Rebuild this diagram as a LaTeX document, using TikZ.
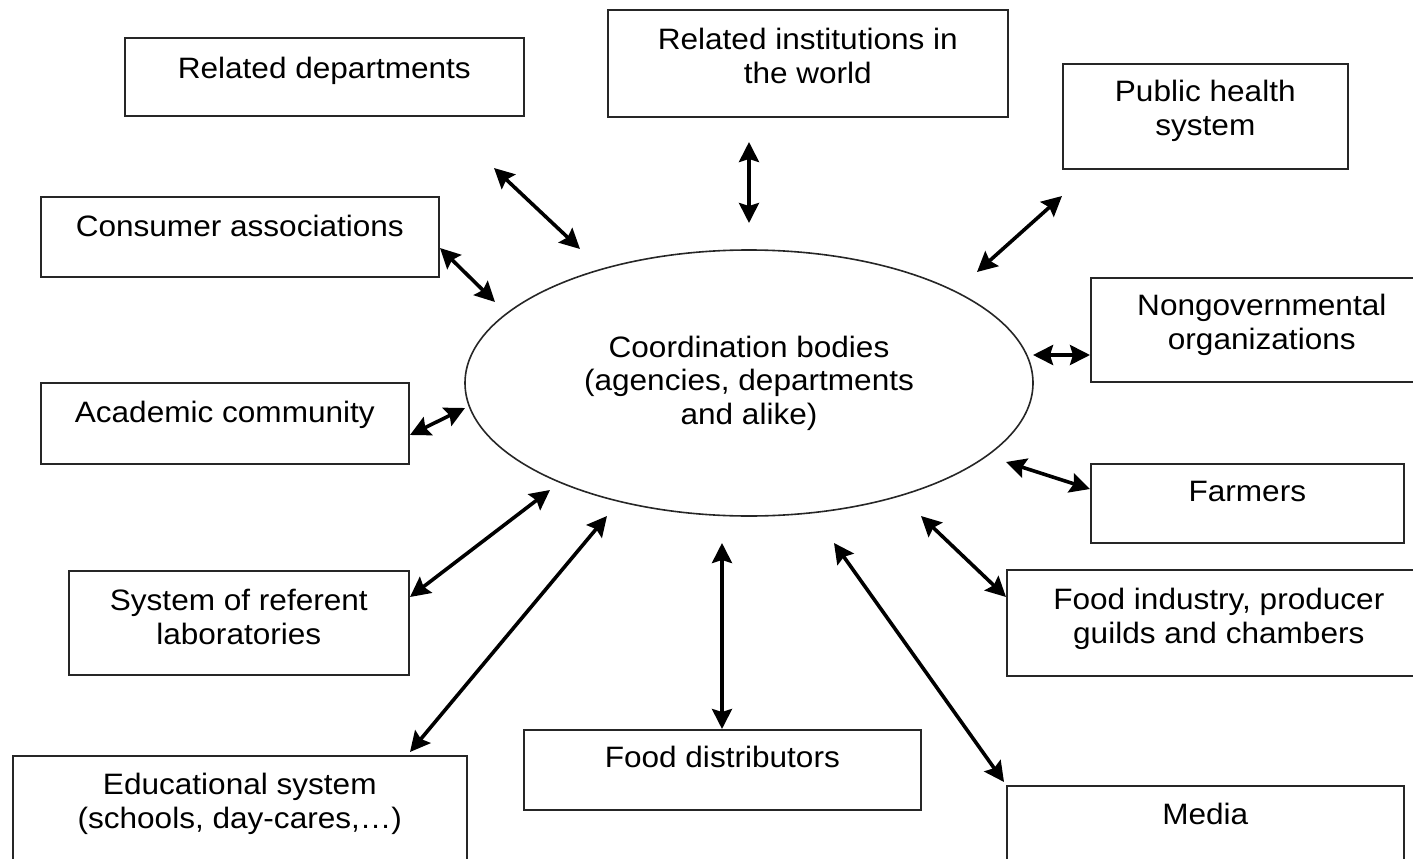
\documentclass[tikz,border=0pt]{standalone}
\usepackage{fontspec}
\setmainfont{Liberation Sans}[FakeStretch=1.07]
\usetikzlibrary{shapes.geometric,arrows.meta}
\newcommand\boxfont{\fontsize{29.5}{33.5}\selectfont}
\begin{document}
\begin{tikzpicture}[x=1pt,y=-1pt,
  box/.style={draw=black!85, line width=1.6pt, inner sep=0pt, align=center, anchor=north west, font=\boxfont},
  tipshape/.tip={Stealth[length=20pt,width=20pt,inset=3pt]},
  link/.style={line width=3.6pt, tipshape-tipshape}]
\useasboundingbox (0,0) rectangle (1413,859);
\clip (0,0) rectangle (1413,859);

% boxes
\node[box, minimum width=399pt, text height=41pt, text depth=37pt] (reldep) at (124,37) {Related departments};
\node[box, minimum width=400pt, text height=73.5pt, text depth=33.5pt] (relinst) at (607,9) {Related institutions in\\the world};
\node[box, minimum width=285pt, text height=71.5pt, text depth=33.5pt] (pubh) at (1062,63) {Public health\\system};
\node[box, minimum width=398pt, text height=40pt, text depth=40pt] (cons) at (40,196) {Consumer associations};
\node[box, minimum width=342pt, text height=71.5pt, text depth=32.5pt] (ngo) at (1090,277) {Nongovernmental\\organizations};
\node[box, minimum width=368pt, text height=40pt, text depth=41pt] (acad) at (40,382) {Academic community};
\node[box, minimum width=313pt, text height=38pt, text depth=41pt] (farm) at (1090,463) {Farmers};
\node[box, minimum width=340pt, text height=73.5pt, text depth=30.5pt] (reflab) at (68,570) {System of referent\\laboratories};
\node[box, minimum width=424pt, text height=73.5pt, text depth=32.5pt] (foodind) at (1006,569) {Food industry, producer\\guilds and chambers};
\node[box, minimum width=454pt, text height=72.5pt, text depth=52.5pt] (edu) at (12,755) {Educational system\\(schools, day-cares,…)};
\node[box, minimum width=397pt, text height=38pt, text depth=42pt] (fdist) at (523,729) {Food distributors};
\node[box, minimum width=397pt, text height=39pt, text depth=56pt] (media) at (1006,785) {Media};

% central ellipse
\node[ellipse, draw=black!85, line width=1.6pt, minimum width=568pt, minimum height=266pt, inner sep=0pt, align=center, font=\boxfont] (coord) at (749,383) {Coordination bodies\\(agencies, departments\\and alike)};

% arrow end points
\coordinate (reldep-a) at (494,168);  \coordinate (reldep-b) at (580,249);
\coordinate (relinst-a) at (749,142); \coordinate (relinst-b) at (749,223);
\coordinate (pubh-a) at (1062,196);   \coordinate (pubh-b) at (977,272);
\coordinate (cons-a) at (440,248);    \coordinate (cons-b) at (495,302);
\coordinate (ngo-a) at (1090,355);    \coordinate (ngo-b) at (1033,355);
\coordinate (acad-a) at (410,435);    \coordinate (acad-b) at (465,408);
\coordinate (farm-a) at (1090,489);   \coordinate (farm-b) at (1006,462);
\coordinate (reflab-a) at (410,597);  \coordinate (reflab-b) at (550,490);
\coordinate (foodind-a) at (1006,597);\coordinate (foodind-b) at (921,516);
\coordinate (edu-a) at (410,752);     \coordinate (edu-b) at (607,516);
\coordinate (fdist-a) at (722,729);   \coordinate (fdist-b) at (722,543);
\coordinate (media-a) at (1004,782);  \coordinate (media-b) at (834,543);

% connectors
\draw[link] (reldep-a) -- (reldep-b);
\draw[link] (relinst-a) -- (relinst-b);
\draw[link] (pubh-a) -- (pubh-b);
\draw[link] (cons-a) -- (cons-b);
\draw[link] (ngo-a) -- (ngo-b);
\draw[link] (acad-a) -- (acad-b);
\draw[link] (farm-a) -- (farm-b);
\draw[link] (reflab-a) -- (reflab-b);
\draw[link] (foodind-a) -- (foodind-b);
\draw[link] (edu-a) -- (edu-b);
\draw[link] (fdist-a) -- (fdist-b);
\draw[link] (media-a) -- (media-b);
\end{tikzpicture}
\end{document}
